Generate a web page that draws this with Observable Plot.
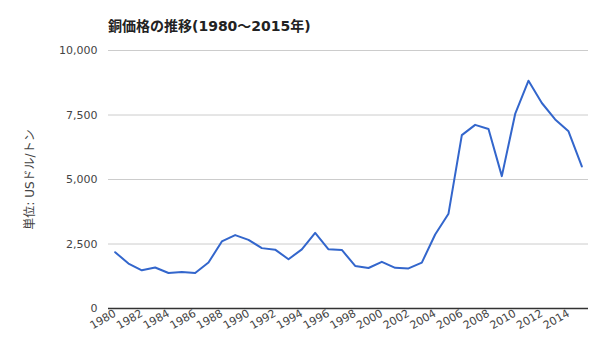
<!DOCTYPE html>
<html>
<head>
<meta charset="utf-8">
<script src="https://cdn.jsdelivr.net/npm/d3@7"></script>
<script src="https://cdn.jsdelivr.net/npm/@observablehq/plot@0.6"></script>
<style>
  html, body { margin: 0; padding: 0; background: #fff; }
  #wrap { position: relative; width: 600px; height: 360px; font-family: "DejaVu Sans", "Noto Sans CJK JP", sans-serif; }
  #title { position: absolute; left: 108px; top: 15px; font-size: 14px; font-weight: bold; color: #222; font-family: "DejaVu Sans", "Noto Sans CJK JP", sans-serif; white-space: nowrap; }
  #chart { position: absolute; left: 0; top: 0; }
</style>
</head>
<body>
<div id="wrap">
  <div id="chart"></div>
  <div id="title">銅価格の推移(1980〜2015年)</div>
</div>
<script>
const years = [1980,1981,1982,1983,1984,1985,1986,1987,1988,1989,1990,1991,1992,1993,1994,1995,1996,1997,1998,1999,2000,2001,2002,2003,2004,2005,2006,2007,2008,2009,2010,2011,2012,2013,2014,2015];
const prices = [2180,1740,1480,1590,1375,1415,1375,1780,2600,2845,2660,2340,2280,1910,2290,2930,2295,2270,1650,1570,1810,1575,1555,1780,2870,3675,6720,7118,6955,5130,7540,8830,7965,7330,6868,5505];
const yTicks = [0,2500,5000,7500,10000];
const xTickLabels = [1980,1982,1984,1986,1988,1990,1992,1994,1996,1998,2000,2002,2004,2006,2008,2010,2012,2014];
const yLabel = "単位: USドル/トン";

const data = years.map((y, i) => ({year: y, price: prices[i]}));

const chart = Plot.plot({
  width: 600,
  height: 360,
  marginLeft: 108,
  marginRight: 12,
  marginTop: 50,
  marginBottom: 52,
  style: {fontFamily: '"DejaVu Sans", "Noto Sans CJK JP", sans-serif', fontSize: "11px", color: "#444", background: "#fff"},
  x: {type: "point", domain: years, padding: 0.5, round: false},
  y: {domain: [0, 10000]},
  marks: [
    Plot.gridY(yTicks, {stroke: "#cccccc", strokeOpacity: 1}),
    Plot.axisY(yTicks, {tickSize: 0, tickPadding: 11, tickFormat: d3.format(","), label: null, fill: "#444"}),
    Plot.text([yLabel], {frameAnchor: "left", dx: -78, rotate: -90, fontSize: 12, fill: "#444", textAnchor: "middle"}),
    Plot.axisX(xTickLabels, {tickSize: 0, tickRotate: -30, tickPadding: 4, tickFormat: d => String(d), label: null, fill: "#444"}),
    Plot.ruleY([0], {stroke: "#333", strokeWidth: 1.5}),
    Plot.line(data, {x: "year", y: "price", stroke: "#3366cc", strokeWidth: 2})
  ]
});
document.getElementById("chart").appendChild(chart);
</script>
</body>
</html>
